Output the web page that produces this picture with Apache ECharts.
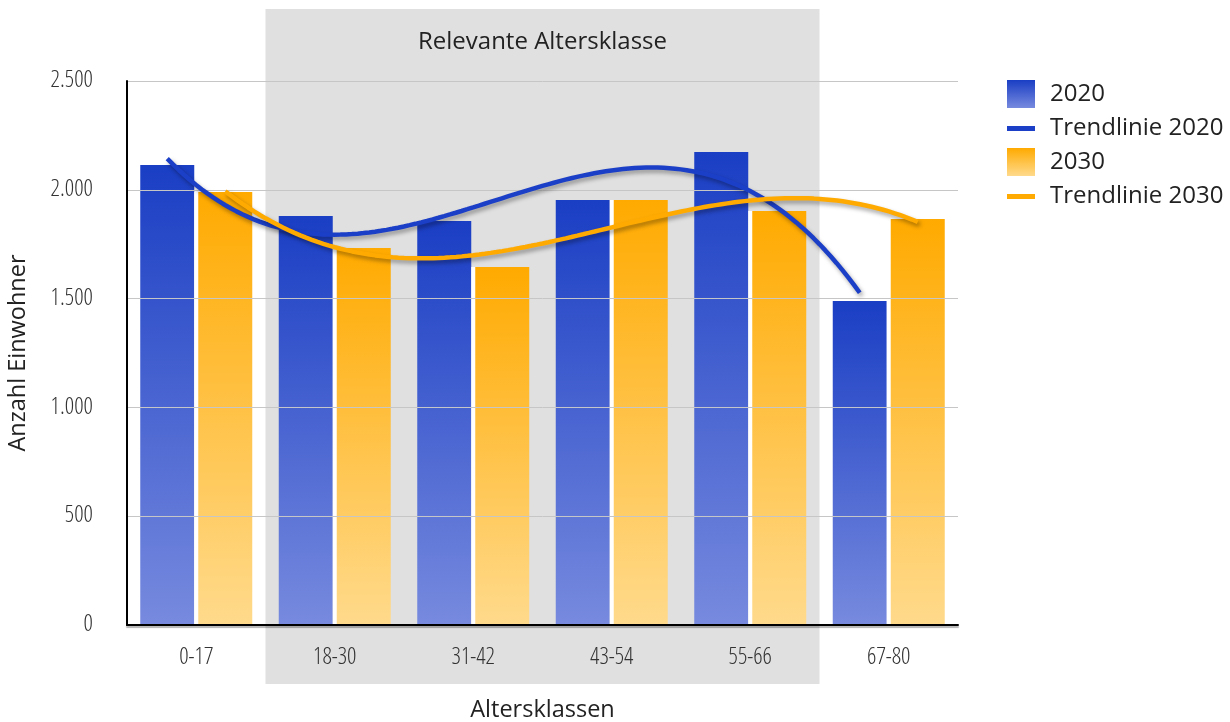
<!DOCTYPE html>
<html>
<head>
<meta charset="utf-8">
<script src="https://cdn.jsdelivr.net/npm/echarts@6/dist/echarts.min.js"></script>
<style>
  html, body { margin: 0; padding: 0; background: #fff; overflow: hidden; }
  #chart { width: 1230px; height: 722px; }
</style>
</head>
<body>
<div id="chart"></div>
<script>
// Population per age class, 2020 and projection 2030
const categories = ['0-17', '18-30', '31-42', '43-54', '55-66', '67-80'];
const values2020 = [2114, 1880, 1857, 1953, 2174, 1489];
const values2030 = [1990, 1733, 1645, 1953, 1903, 1866];
const yTicks = [0, 500, 1000, 1500, 2000, 2500];
const relevantRange = ['18-30', '55-66'];
const relevantLabel = 'Relevante Altersklasse';

// Layout
const GRID = { left: 127, right: 272, top: 81, height: 544 };
const BAND = { top: 9, height: 675 };
const BAR_WIDTH = 54;
const BAR_GAP_PX = 4;
const FONT = "'Open Sans', 'Noto Sans', sans-serif";
const TICK_FONT = "'Open Sans Condensed Light', 'Open Sans Condensed', 'Liberation Sans Narrow', 'Open Sans', sans-serif";

// Least-squares polynomial fit (normal equations, Gaussian elimination)
function polyfit(xs, ys, degree) {
  const n = degree + 1;
  const A = [];
  for (let r = 0; r < n; r++) {
    const row = [];
    for (let c = 0; c < n; c++) {
      let s = 0;
      xs.forEach(x => { s += Math.pow(x, r + c); });
      row.push(s);
    }
    let b = 0;
    xs.forEach((x, i) => { b += ys[i] * Math.pow(x, r); });
    row.push(b);
    A.push(row);
  }
  for (let i = 0; i < n; i++) {
    let p = i;
    for (let k = i + 1; k < n; k++) if (Math.abs(A[k][i]) > Math.abs(A[p][i])) p = k;
    [A[i], A[p]] = [A[p], A[i]];
    for (let k = i + 1; k < n; k++) {
      const f = A[k][i] / A[i][i];
      for (let c = i; c <= n; c++) A[k][c] -= f * A[i][c];
    }
  }
  const coef = new Array(n).fill(0);
  for (let i = n - 1; i >= 0; i--) {
    let s = A[i][n];
    for (let c = i + 1; c < n; c++) s -= A[i][c] * coef[c];
    coef[i] = s / A[i][i];
  }
  return coef;
}

// Cubic trendline of one bar series, traced along that series' bar centres
function trendline(values, slotOffset) {
  const xs = values.map((_, i) => i);
  const coef = polyfit(xs, values, 3);
  const pts = [];
  const steps = 120;
  for (let s = 0; s <= steps; s++) {
    const x = (values.length - 1) * s / steps;
    const y = coef.reduce((acc, c, k) => acc + c * Math.pow(x, k), 0);
    pts.push([x + slotOffset, y]);
  }
  return pts;
}

const plotWidth = 1230 - GRID.left - GRID.right;
const slotWidth = plotWidth / categories.length;
const barShift = (BAR_WIDTH + BAR_GAP_PX) / 2 / slotWidth;

const blueGrad = new echarts.graphic.LinearGradient(0, 0, 0, 1, [
  { offset: 0, color: '#1a3ec4' },
  { offset: 1, color: '#778ade' }
]);
const orangeGrad = new echarts.graphic.LinearGradient(0, 0, 0, 1, [
  { offset: 0, color: '#ffaa00' },
  { offset: 1, color: '#ffda8c' }
]);

// legend glyph for the trendlines: a thin bar inside a square box
const LINE_ICON = 'path://M0,0M0,12H28V17H0ZM28,28';

const fmt = v => String(v).replace(/\B(?=(\d{3})+(?!\d))/g, '.');

const chart = echarts.init(document.getElementById('chart'), null, { renderer: 'canvas', width: 1230, height: 722 });

const trendStyle = color => ({
  color: color, width: 4.5,
  shadowColor: 'rgba(0,0,0,0.35)', shadowBlur: 4, shadowOffsetX: 2, shadowOffsetY: 3
});

chart.setOption({
  animation: false,
  backgroundColor: '#ffffff',
  textStyle: { fontFamily: FONT },
  legend: {
    orient: 'vertical',
    left: 1007,
    top: 80,
    padding: 0,
    itemWidth: 28,
    itemHeight: 28,
    itemGap: 6,
    selectedMode: false,
    textStyle: { fontSize: 24, color: '#222', fontFamily: FONT, padding: [0, 0, 0, 10] },
    data: [
      { name: '2020', icon: 'rect' },
      { name: 'Trendlinie 2020', icon: LINE_ICON },
      { name: '2030', icon: 'rect' },
      { name: 'Trendlinie 2030', icon: LINE_ICON }
    ]
  },
  grid: [
    { left: GRID.left, right: GRID.right, top: GRID.top, height: GRID.height, containLabel: false, outerBoundsMode: 'none' },
    // band behind the middle age classes, reaching above and below the plot
    { left: GRID.left, right: GRID.right, top: BAND.top, height: BAND.height, containLabel: false, outerBoundsMode: 'none' }
  ],
  xAxis: [
    {
      type: 'category',
      gridIndex: 0,
      data: categories,
      boundaryGap: true,
      name: 'Altersklassen',
      nameLocation: 'middle',
      nameGap: 73,
      nameTextStyle: { fontSize: 23.5, color: '#222', fontFamily: FONT },
      axisLine: {
        lineStyle: { color: '#000', width: 2, shadowColor: 'rgba(0,0,0,0.3)', shadowOffsetY: 2, shadowBlur: 1 }
      },
      axisTick: { show: false },
      axisLabel: { fontSize: 23.5, color: '#333', margin: 21, fontFamily: TICK_FONT, fontWeight: 300 },
      splitLine: { show: false },
      z: 3
    },
    { type: 'value', gridIndex: 0, min: -0.5, max: categories.length - 0.5, show: false },
    { type: 'value', gridIndex: 1, min: -0.5, max: categories.length - 0.5, show: false }
  ],
  yAxis: [
    {
      type: 'value',
      gridIndex: 0,
      min: yTicks[0],
      max: yTicks[yTicks.length - 1],
      interval: yTicks[1] - yTicks[0],
      name: 'Anzahl Einwohner',
      nameLocation: 'middle',
      nameGap: 97,
      nameTextStyle: { fontSize: 23.5, color: '#222', fontFamily: FONT },
      axisLine: { show: true, onZero: false, lineStyle: { color: '#000', width: 2 } },
      axisTick: { show: false },
      axisLabel: {
        fontSize: 23.5, color: '#333', margin: 34, formatter: fmt,
        fontFamily: TICK_FONT, fontWeight: 300, padding: [12, 0, 0, 0]
      },
      splitLine: { lineStyle: { color: '#c6c6c6', width: 1 } },
      z: 3
    },
    { type: 'value', gridIndex: 1, min: 0, max: 1, show: false }
  ],
  series: [
    {
      name: 'band',
      type: 'line',
      xAxisIndex: 2,
      yAxisIndex: 1,
      data: [],
      silent: true,
      z: -5,
      markArea: {
        silent: true,
        itemStyle: { color: '#e0e0e0' },
        label: {
          show: true,
          position: 'insideTop',
          distance: 21,
          fontSize: 24,
          color: '#222',
          fontFamily: FONT
        },
        data: [[
          { name: relevantLabel, xAxis: categories.indexOf(relevantRange[0]) - 0.5 },
          { xAxis: categories.indexOf(relevantRange[1]) + 0.5 }
        ]]
      }
    },
    {
      name: '2020',
      type: 'bar',
      xAxisIndex: 0,
      yAxisIndex: 0,
      data: values2020,
      barWidth: BAR_WIDTH,
      barGap: (BAR_GAP_PX / BAR_WIDTH * 100) + '%',
      itemStyle: { color: blueGrad },
      z: 2
    },
    {
      name: '2030',
      type: 'bar',
      xAxisIndex: 0,
      yAxisIndex: 0,
      data: values2030,
      barWidth: BAR_WIDTH,
      barGap: (BAR_GAP_PX / BAR_WIDTH * 100) + '%',
      // white strip between the paired bars
      itemStyle: { color: orangeGrad, shadowColor: '#ffffff', shadowBlur: 0, shadowOffsetX: -BAR_GAP_PX },
      z: 2
    },
    {
      name: 'Trendlinie 2020',
      type: 'line',
      xAxisIndex: 1,
      yAxisIndex: 0,
      data: trendline(values2020, -barShift),
      symbol: 'none',
      color: '#1c3fc8',
      lineStyle: trendStyle('#1c3fc8'),
      z: 4
    },
    {
      name: 'Trendlinie 2030',
      type: 'line',
      xAxisIndex: 1,
      yAxisIndex: 0,
      data: trendline(values2030, barShift),
      symbol: 'none',
      color: '#ffaa00',
      lineStyle: trendStyle('#ffaa00'),
      z: 4
    }
  ]
});
</script>
</body>
</html>
